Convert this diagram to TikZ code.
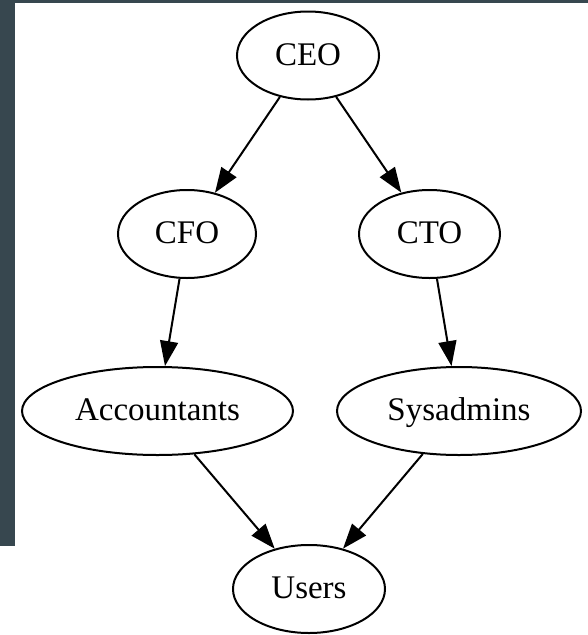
\documentclass[tikz,border=0pt]{standalone}
\usepackage{fontspec}
\setmainfont{Liberation Serif}
\usetikzlibrary{shapes.geometric,arrows.meta}
\definecolor{slate}{RGB}{55,71,79}
\tikzset{
  org/.style={ellipse, draw=black, line width=2pt, inner sep=0pt,
    minimum height=88pt, text height=24pt, text depth=5pt,
    font=\fontsize{33}{40}\selectfont},
  link/.style={draw=black, line width=2pt,
    -{Triangle[length=25pt,width=18pt]}}
}
\begin{document}
\begin{tikzpicture}[x=1pt,y=-1pt]
  % page and frame
  \useasboundingbox (0,0) rectangle (588,635);
  \fill[white] (0,0) rectangle (588,635);
  \fill[slate] (0,0) rectangle (588,3);
  \fill[slate] (0,0) rectangle (15,546);

  % positions
  \node[org, minimum width=142pt] (ceo)   at (308,55.5) {CEO};
  \node[org, minimum width=138pt] (cfo)   at (187,234)  {CFO};
  \node[org, minimum width=141pt] (cto)   at (429.5,234) {CTO};
  \node[org, minimum width=271pt] (acc)   at (157.5,411) {Accountants};
  \node[org, minimum width=244pt] (sys)   at (459,411)  {Sysadmins};
  \node[org, minimum width=152pt] (users) at (309,589)  {Users};

  % reporting lines
  \draw[link] (ceo) -- (cfo);
  \draw[link] (ceo) -- (cto);
  \draw[link] (cfo) -- (acc);
  \draw[link] (cto) -- (sys);
  \draw[link] (acc) -- (users);
  \draw[link] (sys) -- (users);
\end{tikzpicture}
\end{document}
